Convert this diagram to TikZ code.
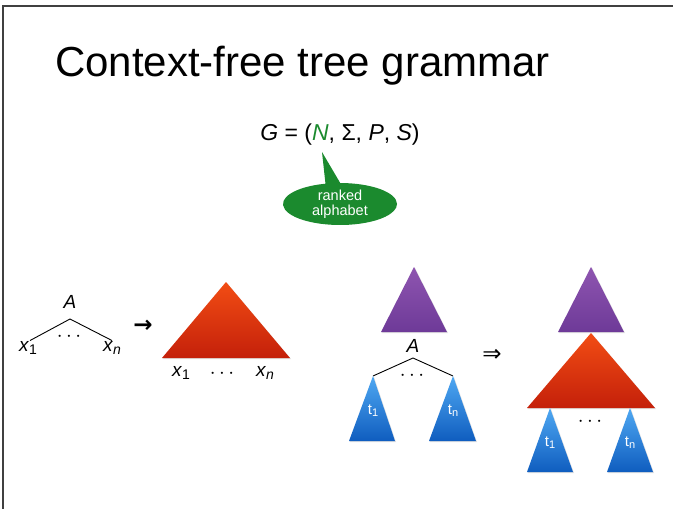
\documentclass[tikz,border=0pt]{standalone}
\usepackage{fontspec}
\setmainfont{Liberation Sans}
\newfontfamily\symfont{DejaVu Sans}
\usetikzlibrary{shapes.callouts,shadows}

\definecolor{bubblegreen}{HTML}{1B8A2E}
\definecolor{redtop}{HTML}{F24D14}
\definecolor{redbot}{HTML}{C4200A}
\definecolor{purtop}{HTML}{8E55B0}
\definecolor{purbot}{HTML}{6E3A98}
\definecolor{bluetop}{HTML}{4FA8F2}
\definecolor{bluebot}{HTML}{0F5DBF}

% subscript that stays nearly full size, as on the slide
\newcommand{\low}[1]{\raisebox{-0.25ex}{\fontsize{14}{16}\selectfont #1}}
\newcommand{\tlow}[1]{\raisebox{-0.25ex}{\fontsize{11}{13}\selectfont #1}}

\tikzset{
  softshadow/.style={drop shadow={shadow xshift=1pt,shadow yshift=-1pt,opacity=0.25}},
  redtri/.style={softshadow,top color=redtop,bottom color=redbot},
  purtri/.style={softshadow,top color=purtop,bottom color=purbot},
  bluetri/.style={softshadow,top color=bluetop,bottom color=bluebot},
  lbl/.style={font=\fontsize{19}{21}\selectfont,inner sep=1pt},
  dotslbl/.style={font=\fontsize{21}{23}\selectfont,inner sep=1pt},
  symlbl/.style={font=\symfont\bfseries\fontsize{23}{25}\selectfont,inner sep=1pt},
  tlbl/.style={font=\fontsize{15}{17}\selectfont,text=white,inner sep=1pt},
  branch/.style={line width=0.9pt}
}

\begin{document}
\begin{tikzpicture}[x=1pt,y=-1pt]
  \useasboundingbox (0,0) rectangle (673,509);
  % slide frame
  \draw[line width=1.2pt,black!75] (3,509) -- (3,6) -- (673,6);
  \node[anchor=base west,font=\fontsize{42}{46}\selectfont,inner sep=0] (title) at (55,76) {Context-free tree grammar};

  % the grammar tuple and its callout
  \node[font=\fontsize{23}{25}\selectfont] (tuple) at (340,135)
    {\textit{G} = (\textcolor{bubblegreen}{\textit{N}}, Σ, \textit{P}, \textit{S})};
  \coordinate (ptr) at (322,152);
  \node[ellipse callout,fill=bubblegreen,text=white,align=center,inner sep=0,
        minimum width=114pt,minimum height=42pt,callout absolute pointer={(ptr)},
        font=\fontsize{14.5}{15.5}\selectfont] (bubble) at (340,204) {ranked\\alphabet};

  % production A(x1,...,xn) -> tree
  \node[lbl] (A1) at (70,302) {\textit{A}};
  \coordinate (fork1) at (70,319);
  \node[lbl] (x1) at (28,348) {\textit{x}\low{1}};
  \node[lbl] (xn) at (112,348) {\textit{x}\low{\textit{n}}};
  \node[dotslbl] (dots1) at (69,337) {$\cdots$};
  \draw[branch] (x1.north) ++(2,0) -- (fork1) -- (xn.north);
  \node[symlbl] (arrow) at (143,326) {→};

  \coordinate (r1) at (226,282);
  \path[redtri] (r1) -- (290,358) -- (162,358) -- cycle;
  \node[lbl] (y1) at (181,373) {\textit{x}\low{1}};
  \node[dotslbl] (dots2) at (222,374) {$\cdots$};
  \node[lbl] (yn) at (265,373) {\textit{x}\low{\textit{n}}};

  % derivation step, left side
  \path[purtri] (414,267) -- (447,332) -- (381,332) -- cycle;
  \node[lbl] (A2) at (413,346) {\textit{A}};
  \coordinate (fork2) at (413,358);
  \coordinate (lt1) at (373,376);
  \coordinate (ltn) at (453,376);
  \draw[branch] (lt1) -- (fork2) -- (ltn);
  \node[dotslbl] (dots3) at (412,376) {$\cdots$};
  \path[bluetri] (lt1) -- (395,441) -- (349,441) -- cycle;
  \path[bluetri] (ltn) -- (476,441) -- (429,441) -- cycle;
  \node[tlbl] (t1) at (373,411) {t\tlow{1}};
  \node[tlbl] (tn) at (453,411) {t\tlow{n}};

  \node[symlbl,font=\symfont\fontsize{23}{25}\selectfont] (step) at (492,355) {⇒};

  % derivation step, right side
  \path[purtri] (591,267) -- (624,332) -- (558,332) -- cycle;
  \path[redtri] (591,333) -- (655,408) -- (527,408) -- cycle;
  \coordinate (rt1) at (550,408);
  \coordinate (rtn) at (630,408);
  \path[bluetri] (rt1) -- (573,472) -- (527,472) -- cycle;
  \path[bluetri] (rtn) -- (653,472) -- (607,472) -- cycle;
  \node[tlbl] (t1r) at (550,443) {t\tlow{1}};
  \node[tlbl] (tnr) at (630,443) {t\tlow{n}};
  \node[dotslbl] (dots4) at (590,422) {$\cdots$};
\end{tikzpicture}
\end{document}
